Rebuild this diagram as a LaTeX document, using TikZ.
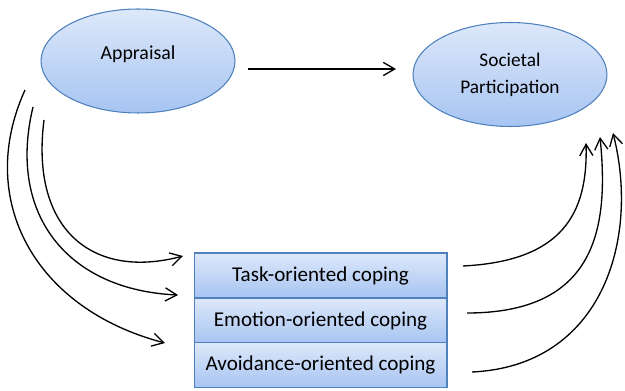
\documentclass[tikz,border=0pt]{standalone}
\usepackage{fontspec}
\setmainfont{Carlito}
\usetikzlibrary{shapes.geometric,arrows.meta}
\definecolor{topc}{HTML}{DDE8FA}
\definecolor{botc}{HTML}{A7C4F2}
\definecolor{edgec}{HTML}{4F81BD}
\begin{document}
\begin{tikzpicture}[x=0.02cm,y=-0.02cm,
  bubble/.style={ellipse,draw=edgec,line width=0.6pt,top color=topc,bottom color=botc,
    minimum width=3.88cm,minimum height=2.08cm,inner sep=0pt,
    font=\fontsize{11}{15.3}\selectfont,align=center},
  copebox/.style={rectangle,draw=edgec,line width=0.6pt,top color=topc,bottom color=botc,
    minimum width=5.06cm,minimum height=0.9cm,inner sep=0pt,
    font=\fontsize{12}{14}\selectfont},
  conn/.style={line width=0.75pt,-{Straight Barb[length=6.5pt,width=7.5pt]}}]
\useasboundingbox (0,0) rectangle (625,391);
\node[bubble,font=\fontsize{11.3}{15.3}\selectfont,text height=7.5pt,text depth=9.5pt] (app) at (138,61) {Appraisal};
\node[bubble] (soc) at (510,74.5) {Societal\\Participation};
\node[copebox] (task) at (320.5,275.5) {Task-oriented coping};
\node[copebox] (emo) at (320.5,320.5) {Emotion-oriented coping};
\node[copebox] (avo) at (320.5,365) {Avoidance-oriented coping};
% horizontal connector
\coordinate (h0) at (248,69);
\coordinate (h1) at (396,69);
\draw[conn] (h0) -- (h1);
% left connectors
\coordinate (l1s) at (25,90);  \coordinate (l1e) at (165,343);
\coordinate (l2s) at (33,107); \coordinate (l2e) at (178,295);
\coordinate (l3s) at (44,120); \coordinate (l3e) at (183,256);
\draw[conn] (l1s) .. controls (-25,200) and (35,309) .. (l1e);
\draw[conn] (l2s) .. controls (7,215) and (68,290) .. (l2e);
\draw[conn] (l3s) .. controls (30,230) and (93,280) .. (l3e);
% right connectors
\coordinate (r1s) at (463,266); \coordinate (r1e) at (586,143);
\coordinate (r2s) at (467,313); \coordinate (r2e) at (600,137);
\coordinate (r3s) at (472,372); \coordinate (r3e) at (613,133);
\draw[conn] (r1s) .. controls (563,261) and (588,213) .. (r1e);
\draw[conn] (r2s) .. controls (597,313) and (609,227) .. (r2e);
\draw[conn] (r3s) .. controls (602,366) and (640,240) .. (r3e);
\end{tikzpicture}
\end{document}
